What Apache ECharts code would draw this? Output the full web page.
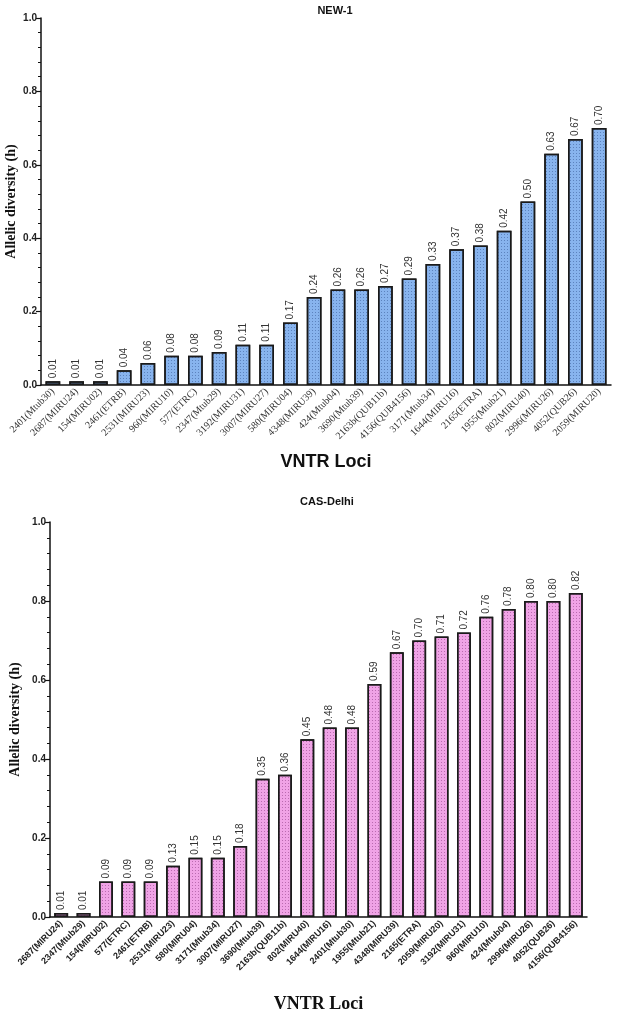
<!doctype html>
<html>
<head>
    <meta charset="utf-8"/>
    <title>Allelic diversity</title>
    <script src="https://cdn.jsdelivr.net/npm/echarts@6/dist/echarts.min.js"></script>
    <style>
        html, body { margin: 0; padding: 0; background: #fff; }
        #main { width: 618px; height: 1012px; }
    </style>
</head>
<body>
<div id="main"></div>
<script>
    // NEW-1
    const newLoci = ["2401(Mtub30)", "2687(MIRU24)", "154(MIRU02)", "2461(ETRB)", "2531(MIRU23)", "960(MIRU10)",
        "577(ETRC)", "2347(Mtub29)", "3192(MIRU31)", "3007(MIRU27)", "580(MIRU04)", "4348(MIRU39)",
        "424(Mtub04)", "3690(Mtub39)", "2163b(QUB11b)", "4156(QUB4156)", "3171(Mtub34)", "1644(MIRU16)",
        "2165(ETRA)", "1955(Mtub21)", "802(MIRU40)", "2996(MIRU26)", "4052(QUB26)", "2059(MIRU20)"];
    const newValues = [0.01, 0.01, 0.01, 0.04, 0.06, 0.08, 0.08, 0.09, 0.11, 0.11, 0.17, 0.24,
        0.26, 0.26, 0.27, 0.29, 0.33, 0.37, 0.38, 0.42, 0.50, 0.63, 0.67, 0.70];

    // CAS-Delhi
    const casLoci = ["2687(MIRU24)", "2347(Mtub29)", "154(MIRU02)", "577(ETRC)", "2461(ETRB)", "2531(MIRU23)",
        "580(MIRU04)", "3171(Mtub34)", "3007(MIRU27)", "3690(Mtub39)", "2163b(QUB11b)", "802(MIRU40)",
        "1644(MIRU16)", "2401(Mtub30)", "1955(Mtub21)", "4348(MIRU39)", "2165(ETRA)", "2059(MIRU20)",
        "3192(MIRU31)", "960(MIRU10)", "424(Mtub04)", "2996(MIRU26)", "4052(QUB26)", "4156(QUB4156)"];
    const casValues = [0.01, 0.01, 0.09, 0.09, 0.09, 0.13, 0.15, 0.15, 0.18, 0.35, 0.36, 0.45,
        0.48, 0.48, 0.59, 0.67, 0.70, 0.71, 0.72, 0.76, 0.78, 0.80, 0.80, 0.82];

    const titles = ["NEW-1", "CAS-Delhi"];
    const yTicks = [0, 0.2, 0.4, 0.6, 0.8, 1.0];

    const sans = "Liberation Sans, Arial, sans-serif";
    const serif = "Liberation Serif, Times New Roman, serif";

    function yAxisFor(gridIndex, gap) {
        return {
            type: "value",
            gridIndex: gridIndex,
            min: yTicks[0],
            max: yTicks[yTicks.length - 1],
            interval: 0.2,
            name: "Allelic diversity (h)",
            nameLocation: "middle",
            nameGap: gap,
            nameMoveOverlap: false,
            nameTextStyle: {fontFamily: serif, fontWeight: "bold", fontSize: 14, color: "#111"},
            axisLine: {show: true, lineStyle: {color: "#111", width: 1.5}},
            axisTick: {show: true, length: 5, lineStyle: {color: "#111", width: 1.2}},
            minorTick: {show: true, splitNumber: 5, length: 3, lineStyle: {color: "#111", width: 1}},
            splitLine: {show: false},
            axisLabel: {
                fontFamily: sans, fontWeight: "bold", fontSize: 10, color: "#222", margin: 4,
                formatter: v => v.toFixed(1)
            }
        };
    }

    function barSeries(idx, data, fill, dots) {
        return {
            type: "bar",
            xAxisIndex: idx,
            yAxisIndex: idx,
            data: data,
            barWidth: "62%",
            itemStyle: {
                color: fill,
                borderColor: "#1a1a1a",
                borderWidth: 1.5,
                decal: {
                    symbol: "rect",
                    symbolSize: 1,
                    dashArrayX: [1, 2],
                    dashArrayY: [1, 2],
                    color: dots
                }
            },
            label: {
                show: true,
                position: "top",
                rotate: 90,
                align: "left",
                verticalAlign: "middle",
                distance: 3,
                fontFamily: sans,
                fontSize: 10,
                color: "#333",
                formatter: p => p.value.toFixed(2)
            }
        };
    }

    const chart = echarts.init(document.getElementById("main"), null, {renderer: "canvas"});
    const option = {
        animation: false,
        backgroundColor: "#fff",
        title: [
            {text: titles[0], left: 330, top: 0, textAlign: "center",
                textStyle: {fontFamily: sans, fontWeight: "bold", fontSize: 11, color: "#111"}},
            {text: titles[1], left: 322, top: 491, textAlign: "center",
                textStyle: {fontFamily: sans, fontWeight: "bold", fontSize: 11, color: "#111"}}
        ],
        grid: [
            {left: 41, right: 7, top: 18, height: 367, outerBoundsMode: "none", containLabel: false},
            {left: 50, right: 31, top: 522, height: 395, outerBoundsMode: "none", containLabel: false}
        ],
        xAxis: [
            {
                type: "category",
                gridIndex: 0,
                data: newLoci,
                name: "VNTR Loci",
                nameLocation: "middle",
                nameGap: 68,
                nameTextStyle: {fontFamily: sans, fontWeight: "bold", fontSize: 18, color: "#111"},
                axisLine: {lineStyle: {color: "#111", width: 1.5}},
                axisTick: {alignWithLabel: true, length: 5, lineStyle: {color: "#111", width: 1.2}},
                axisLabel: {interval: 0, rotate: 45, margin: 5, fontFamily: serif, fontSize: 10, color: "#333"}
            },
            {
                type: "category",
                gridIndex: 1,
                data: casLoci,
                name: "VNTR Loci",
                nameLocation: "middle",
                nameGap: 78,
                nameTextStyle: {fontFamily: serif, fontWeight: "bold", fontSize: 18, color: "#111"},
                axisLine: {lineStyle: {color: "#111", width: 1.5}},
                axisTick: {alignWithLabel: true, length: 5, lineStyle: {color: "#111", width: 1.2}},
                axisLabel: {interval: 0, rotate: 45, margin: 5, fontFamily: sans, fontWeight: "bold", fontSize: 9, color: "#222"}
            }
        ],
        yAxis: [yAxisFor(0, 23), yAxisFor(1, 28)],
        series: [
            barSeries(0, newValues, "#88b4ee", "rgba(40,70,130,0.45)"),
            barSeries(1, casValues, "#f0a3e6", "rgba(120,40,110,0.45)")
        ]
    };
    chart.setOption(option);

    window.onresize = function () {
        chart.resize();
    };
</script>
</body>
</html>
